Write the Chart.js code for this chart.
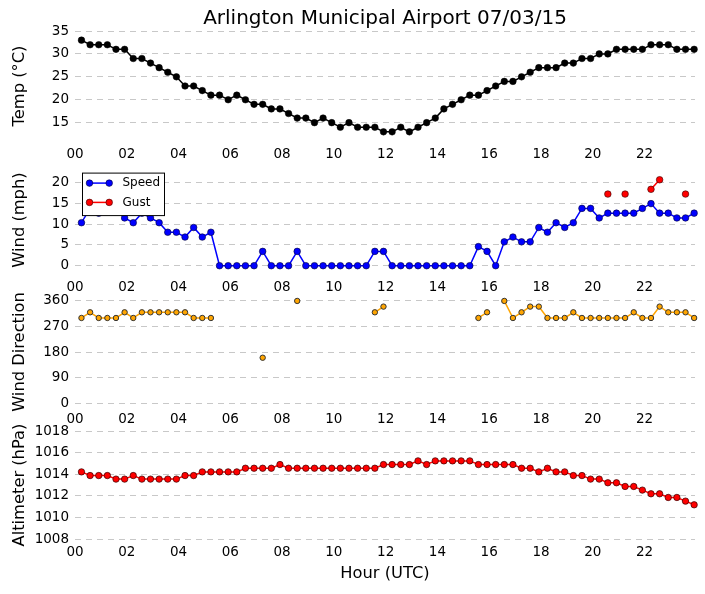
<!DOCTYPE html>
<html><head><meta charset="utf-8">
<script src="https://cdn.jsdelivr.net/npm/chart.js@4.4.1/dist/chart.umd.min.js"></script>
<style>
html,body{margin:0;padding:0;background:#fff;}
#wrap{position:relative;width:705px;height:594px;overflow:hidden;background:#fff;}
canvas{position:absolute;left:0;}
</style></head><body>
<div id="wrap">
<canvas id="c1" width="705" height="163" style="top:0px;width:705px;height:163px"></canvas>
<canvas id="c2" width="705" height="144" style="top:152px;width:705px;height:144px"></canvas>
<canvas id="c3" width="705" height="144" style="top:284px;width:705px;height:144px"></canvas>
<canvas id="c4" width="705" height="171" style="top:417px;width:705px;height:171px"></canvas>
</div>
<script>
const times = ["00:15","00:35","00:55","01:15","01:35","01:55","02:15","02:35","02:55","03:15","03:35","03:55",
"04:15","04:35","04:55","05:15","05:35","05:55","06:15","06:35","06:55","07:15","07:35","07:55",
"08:15","08:35","08:55","09:15","09:35","09:55","10:15","10:35","10:55","11:15","11:35","11:55",
"12:15","12:35","12:55","13:15","13:35","13:55","14:15","14:35","14:55","15:15","15:35","15:55",
"16:15","16:35","16:55","17:15","17:35","17:55","18:15","18:35","18:55","19:15","19:35","19:55",
"20:15","20:35","20:55","21:15","21:35","21:55","22:15","22:35","22:55","23:15","23:35","23:55"];

const temps = [33,32,32,32,31,31,29,29,28,27,26,25,23,23,22,21,21,20,21,20,19,19,18,18,
17,16,16,15,16,15,14,15,14,14,14,13,13,14,13,14,15,16,18,19,20,21,21,22,
23,24,24,25,26,27,27,27,28,28,29,29,30,30,31,31,31,31,32,32,32,31,31,31];

const windSpeed = [10.36,13.81,12.66,13.81,13.81,11.51,10.36,12.66,11.51,10.36,8.06,8.06,
6.9,9.21,6.9,8.06,0,0,0,0,0,3.45,0,0,
0,3.45,0,0,0,0,0,0,0,0,3.45,3.45,
0,0,0,0,0,0,0,0,0,0,4.6,3.45,
0,5.75,6.9,5.75,5.75,9.21,8.06,10.36,9.21,10.36,13.81,13.81,
11.51,12.66,12.66,12.66,12.66,13.81,14.96,12.66,12.66,11.51,11.51,12.66];

const windGust = [null,null,null,null,null,null,null,null,null,null,null,null,
null,null,null,null,null,null,null,null,null,null,null,null,
null,null,null,null,null,null,null,null,null,null,null,null,
null,null,null,null,null,null,null,null,null,null,null,null,
null,null,null,null,null,null,null,null,null,null,null,null,
null,17.26,null,17.26,null,null,18.41,20.71,null,null,17.26,null];

const windDir = [300,320,300,300,300,320,300,320,320,320,320,320,
320,300,300,300,null,null,null,null,null,160,null,null,
null,360,null,null,null,null,null,null,null,null,320,340,
null,null,null,null,null,null,null,null,null,null,300,320,
null,360,300,320,340,340,300,300,300,320,300,300,
300,300,300,300,320,300,300,340,320,320,320,300];

const altimeter = [1014.22,1013.88,1013.88,1013.88,1013.55,1013.55,1013.88,1013.55,1013.55,1013.55,1013.55,1013.55,
1013.88,1013.88,1014.22,1014.22,1014.22,1014.22,1014.22,1014.56,1014.56,1014.56,1014.56,1014.90,
1014.56,1014.56,1014.56,1014.56,1014.56,1014.56,1014.56,1014.56,1014.56,1014.56,1014.56,1014.90,
1014.90,1014.90,1014.90,1015.24,1014.90,1015.24,1015.24,1015.24,1015.24,1015.24,1014.90,1014.90,
1014.90,1014.90,1014.90,1014.56,1014.56,1014.22,1014.56,1014.22,1014.22,1013.88,1013.88,1013.55,
1013.55,1013.21,1013.21,1012.87,1012.87,1012.53,1012.19,1012.19,1011.85,1011.85,1011.51,1011.17];

const xTicks = [0,2,4,6,8,10,12,14,16,18,20,22];
const xTickLabels = ["00","02","04","06","08","10","12","14","16","18","20","22"];
const tempTicks = [15,20,25,30,35];
const windTicks = [0,5,10,15,20];
const dirTicks = [0,90,180,270,360];
const altTicks = [1008,1010,1012,1014,1016,1018];

Chart.defaults.font.family = '"DejaVu Sans", sans-serif';
Chart.defaults.color = '#000';
Chart.defaults.animation = false;

function hourOf(t){ const p = t.split(':').map(Number); return p[0] + p[1]/60; }
const xs = times.map(hourOf);
const pts = arr => arr.map((v,i) => ({x: xs[i], y: v}));

function yScale(min, max, ticks, title){
  return {
    min, max,
    afterBuildTicks: s => { s.ticks = ticks.map(v => ({value: v})); },
    afterFit: s => { s.width = 75; },
    grid: {color: '#c8c8c8', lineWidth: 1, drawTicks: false},
    border: {display: false, dash: [6, 5]},
    ticks: {padding: 6, font: {size: 13.5}, color: '#000', callback: v => String(v)},
    title: {display: true, text: title, font: {size: 16.3}, padding: {top: 10, bottom: 0}, color: '#000'}
  };
}
function xScale(h, showTitle){
  return {
    type: 'linear', min: 0, max: 23.95,
    afterBuildTicks: s => { s.ticks = xTicks.map(v => ({value: v})); },
    afterFit: s => { s.height = h; },
    grid: {display: false, drawTicks: false},
    border: {display: false},
    ticks: {padding: 5, font: {size: 13.5}, color: '#000', maxRotation: 0, autoSkip: false,
            callback: (v, i) => xTickLabels[i]},
    title: {display: showTitle, text: 'Hour (UTC)', font: {size: 16.3}, padding: {top: 0, bottom: 4}, color: '#000'}
  };
}
function ds(label, data, color, r, edge, ew, lw){
  return {label, data: pts(data), borderColor: color, backgroundColor: color, borderWidth: lw,
    pointRadius: r, pointBackgroundColor: color, pointBorderColor: edge, pointBorderWidth: ew,
    tension: 0, spanGaps: false, clip: 6};
}
function baseOpts(padTop, x, y, extraPlugins){
  return {
    responsive: false, maintainAspectRatio: false, animation: false,
    layout: {padding: {top: padTop, left: 0, right: 10, bottom: 0}},
    scales: {x, y},
    plugins: Object.assign({legend: {display: false}, tooltip: {enabled: false}}, extraPlugins || {})
  };
}

const legendBox = {
  id: 'legendBox',
  afterDatasetsDraw(chart){
    const {ctx, chartArea: a} = chart;
    const x = a.left + 7.5, y = a.top + 7, w = 82, h = 42.5;
    ctx.save();
    ctx.fillStyle = '#fff'; ctx.fillRect(x, y, w, h);
    ctx.strokeStyle = '#000'; ctx.lineWidth = 1; ctx.strokeRect(x, y, w, h);
    chart.data.datasets.forEach((d, i) => {
      const ly = y + 10 + i * 19.3;
      ctx.strokeStyle = d.borderColor; ctx.lineWidth = d.borderWidth;
      ctx.beginPath(); ctx.moveTo(x + 7, ly); ctx.lineTo(x + 26.7, ly); ctx.stroke();
      [x + 7, x + 26.7].forEach(px => {
        ctx.beginPath(); ctx.arc(px, ly, d.pointRadius, 0, 2 * Math.PI);
        ctx.fillStyle = d.pointBackgroundColor; ctx.fill();
        ctx.lineWidth = d.pointBorderWidth; ctx.strokeStyle = d.pointBorderColor; ctx.stroke();
      });
      ctx.fillStyle = '#000'; ctx.font = '12px "DejaVu Sans"';
      ctx.textBaseline = 'middle'; ctx.textAlign = 'left';
      ctx.fillText(d.label, x + 40, ly);
    });
    ctx.restore();
  }
};

new Chart(document.getElementById('c1'), {
  type: 'line',
  data: {datasets: [ds('Temp', temps, '#000000', 3.3, '#000000', 0.5, 1.5)]},
  options: baseOpts(0, xScale(22, false), yScale(11, 35, tempTicks, 'Temp (°C)'), {
    title: {display: true, text: 'Arlington Municipal Airport 07/03/15', fullSize: false,
            font: {size: 20, weight: 'normal'}, color: '#000', padding: {top: 6.5, bottom: 0.5}}
  })
});

new Chart(document.getElementById('c2'), {
  type: 'line',
  data: {datasets: [
    ds('Speed', windSpeed, '#0000ff', 3.3, '#000033', 0.6, 1.5),
    ds('Gust', windGust, '#ff0000', 3.3, '#330000', 0.6, 1.5)
  ]},
  options: baseOpts(12, xScale(22, false), yScale(-2, 24, windTicks, 'Wind (mph)')),
  plugins: [legendBox]
});

new Chart(document.getElementById('c3'), {
  type: 'line',
  data: {datasets: [ds('Direction', windDir, '#ffa500', 2.7, '#333333', 1, 1.5)]},
  options: baseOpts(12, xScale(22, false), yScale(-10, 370, dirTicks, 'Wind Direction'))
});

new Chart(document.getElementById('c4'), {
  type: 'line',
  data: {datasets: [ds('Altimeter', altimeter, '#ff0000', 3.2, '#330000', 0.7, 1.5)]},
  options: baseOpts(12, xScale(49, true), yScale(1008, 1018, altTicks, 'Altimeter (hPa)'))
});
</script>
</body></html>
